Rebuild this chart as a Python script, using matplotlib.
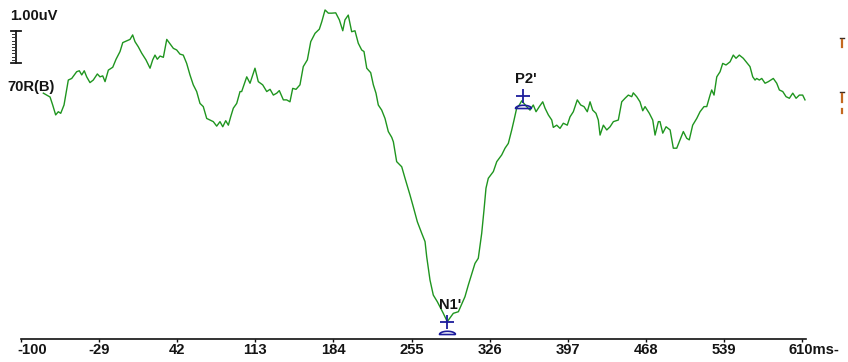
import numpy as np
import matplotlib
matplotlib.use("Agg")
import matplotlib.pyplot as plt
from matplotlib.path import Path
from matplotlib.lines import Line2D
import matplotlib.transforms as mtransforms

plt.rcParams['font.family'] = ['Liberation Sans', 'DejaVu Sans']

# Averaged ERP waveform, channel 70R(B): latency (ms) and amplitude (uV)
times = [
    -79.7, -73.6, -71.2, -68.5, -66.1, -63.9, -60.9, -58.5, -57.0, -53.9,
    -49.4, -47.0, -44.8, -42.5, -40.3, -37.3, -34.3, -30.6, -28.2, -25.7,
    -23.6, -20.6, -16.6, -13.6, -10.0, -7.5, -3.4, -0.9, 1.5, 3.6,
    6.6, 9.7, 13.6, 17.3, 19.7, 21.8, 23.9, 26.4, 29.4, 30.9,
    32.5, 35.5, 38.5, 41.5, 44.5, 47.5, 50.6, 53.6, 56.6, 59.7,
    62.7, 65.7, 68.8, 71.8, 74.8, 77.9, 80.9, 83.4, 86.1, 88.5,
    90.6, 93.0, 96.1, 99.1, 100.6, 105.2, 108.2, 112.7, 115.7, 119.7,
    123.4, 126.4, 129.4, 132.5, 134.8, 138.5, 141.5, 144.5, 147.0, 150.0,
    153.6, 156.6, 160.3, 163.4, 167.3, 171.2, 173.4, 176.4, 179.4, 182.5,
    186.1, 189.4, 192.5, 194.5, 197.5, 200.6, 203.6, 206.6, 209.7, 211.8,
    214.3, 217.9, 220.3, 222.7, 224.8, 227.9, 230.9, 233.9, 237.0, 238.5,
    241.5, 246.1, 249.1, 253.6, 256.6, 260.3, 264.3, 267.3, 268.8, 271.8,
    274.8, 278.5, 283.9, 287.5, 293.0, 297.6, 303.6, 306.6, 312.7, 315.7,
    318.8, 320.9, 322.7, 324.8, 329.4, 332.5, 337.0, 340.0, 343.0, 346.1,
    348.2, 350.6, 353.0, 355.2, 359.7, 362.7, 365.7, 368.2, 371.2, 374.3,
    376.4, 379.4, 382.5, 383.9, 387.0, 390.0, 393.0, 396.6, 399.1, 402.1,
    405.7, 408.8, 411.8, 414.8, 417.3, 419.7, 422.7, 424.8, 426.4, 429.4,
    432.5, 435.5, 438.5, 443.0, 446.1, 449.1, 452.1, 455.2, 456.6, 459.7,
    462.7, 465.2, 467.3, 471.2, 474.3, 476.4, 479.4, 480.9, 483.4, 486.4,
    490.1, 493.0, 496.1, 499.1, 502.1, 505.2, 507.5, 510.6, 514.3, 517.3,
    520.9, 523.4, 526.4, 527.9, 530.0, 532.5, 535.5, 537.9, 540.9, 544.6,
    547.5, 550.0, 553.0, 556.6, 560.3, 562.7, 565.2, 567.3, 568.8, 571.2,
    573.4, 576.4, 579.4, 583.9, 587.0, 589.4, 592.5, 595.5, 598.5, 601.6,
    604.6, 607.6, 610.6, 612.7,
]
amplitudes = [
    0.12, 0.00, -0.25, -0.56, -0.46, -0.51, -0.25, 0.22, 0.53, 0.58,
    0.79, 0.82, 0.69, 0.82, 0.63, 0.45, 0.53, 0.72, 0.63, 0.66,
    0.48, 0.84, 0.93, 1.18, 1.42, 1.70, 1.76, 1.80, 1.94, 1.73,
    1.57, 1.37, 1.16, 0.90, 1.16, 1.31, 1.18, 1.28, 1.24, 1.52,
    1.80, 1.66, 1.52, 1.47, 1.34, 1.31, 1.05, 0.69, 0.38, 0.17,
    -0.20, -0.30, -0.67, -0.72, -0.77, -0.91, -0.77, -0.93, -0.74, -0.88,
    -0.62, -0.35, -0.20, 0.17, 0.17, 0.63, 0.43, 0.90, 0.48, 0.38,
    0.17, 0.24, 0.06, 0.12, 0.20, -0.09, -0.09, -0.15, 0.27, 0.24,
    0.38, 0.95, 1.16, 1.73, 1.99, 2.12, 2.35, 2.72, 2.62, 2.62,
    2.63, 2.41, 2.07, 2.41, 2.56, 2.04, 2.07, 1.68, 1.47, 1.42,
    0.90, 0.76, 0.38, 0.12, -0.25, -0.41, -0.67, -1.08, -1.26, -1.40,
    -2.02, -2.18, -2.54, -3.06, -3.43, -3.90, -4.26, -4.52, -4.99, -5.72,
    -6.19, -6.40, -6.76, -7.02, -6.76, -6.71, -6.24, -5.88, -5.20, -5.04,
    -4.26, -3.53, -2.85, -2.54, -2.33, -2.02, -1.81, -1.60, -1.45, -1.03,
    -0.72, -0.35, -0.25, -0.12, -0.30, -0.41, -0.25, -0.46, -0.30, -0.15,
    -0.35, -0.56, -0.72, -0.95, -0.88, -0.98, -0.82, -0.88, -0.62, -0.46,
    -0.09, -0.25, -0.30, -0.46, -0.15, -0.41, -0.51, -0.72, -1.19, -0.88,
    -1.03, -0.93, -0.77, -0.72, -0.15, -0.04, 0.06, 0.01, 0.13, 0.01,
    -0.15, -0.43, -0.30, -0.51, -0.72, -1.19, -0.77, -0.77, -1.13, -0.93,
    -1.03, -1.60, -1.60, -1.34, -1.08, -1.29, -1.34, -0.88, -0.67, -0.46,
    -0.30, -0.30, 0.06, 0.22, 0.06, 0.63, 0.79, 1.05, 1.00, 1.10,
    1.31, 1.21, 1.31, 1.21, 1.05, 0.95, 0.63, 0.53, 0.58, 0.53,
    0.58, 0.43, 0.48, 0.58, 0.43, 0.22, 0.17, 0.01, -0.04, 0.12,
    -0.04, 0.06, 0.06, -0.09,
]

# Marked components
peak_names = ["N1'", "P2'"]
peak_times = [287.5, 356.0]
peak_amps = [-7.02, 0.03]

# Time axis ticks (ms)
tick_values = [-100, -29, 42, 113, 184, 255, 326, 397, 468, 539, 610]
tick_labels = ["-100", "-29", "42", "113", "184", "255", "326", "397", "468", "539", "610ms-"]

channel_label = "70R(B)"
scale_label = "1.00uV"
scale_uv = 1.0

W, H, DPI = 848, 362, 100
FS = 10.6
TEXT_COLOR = "#141414"

fig = plt.figure(figsize=(W / DPI, H / DPI), dpi=DPI)
fig.patch.set_facecolor("white")

ax_bottom_px = 339
ax = fig.add_axes([0, (H - ax_bottom_px) / H, 1, ax_bottom_px / H])
ax.set_facecolor("none")
ax.set_xlim(-119.1, 651.8)
ax.set_ylim(-7.5625, 3.03125)

for side in ("top", "left", "right"):
    ax.spines[side].set_visible(False)
ax.spines["bottom"].set_color("#111111")
ax.spines["bottom"].set_linewidth(1.2)
ax.spines["bottom"].set_bounds(-100, 613.6)
ax.set_yticks([])

ax.set_xticks(tick_values)
ax.set_xticklabels(tick_labels, fontsize=FS, fontweight="bold", color=TEXT_COLOR)
ax.tick_params(axis="x", direction="out", length=2.3, width=1.0,
               color="#111111", pad=0.8)
labels = ax.get_xticklabels()
labels[0].set_ha("left")
labels[0].set_transform(labels[0].get_transform()
                        + mtransforms.ScaledTranslation(-4 / DPI, 0, fig.dpi_scale_trans))
labels[-1].set_ha("left")
labels[-1].set_transform(labels[-1].get_transform()
                         + mtransforms.ScaledTranslation(-13.5 / DPI, 0, fig.dpi_scale_trans))

# Waveform
ax.plot(times, amplitudes, color="#1f951f", linewidth=1.0, solid_joinstyle="round",
        zorder=3)

# Peak markers: cross at the peak, dome below it, name above
marker_color = "#1d1d9c"
theta = np.linspace(0, np.pi, 25)
dome_verts = np.column_stack([np.cos(theta), 0.4 * np.sin(theta)])
dome_verts = np.vstack([dome_verts, [[1.0, 0.0]]])
dome = Path(dome_verts)
dome_trans = mtransforms.offset_copy(ax.transData, fig=fig, x=0, y=-12, units="dots")
for name, t, a in zip(peak_names, peak_times, peak_amps):
    ax.plot([t], [a], marker="+", markersize=10, markeredgewidth=1.3,
            color=marker_color, zorder=4)
    ax.plot([t], [a], marker=dome, markersize=11.5, markeredgewidth=1.2,
            markerfacecolor="none", markeredgecolor=marker_color,
            transform=dome_trans, zorder=4, clip_on=False)
    ax.annotate(name, xy=(t, a), xytext=(3, 17), textcoords="offset pixels",
                ha="center", va="center", fontsize=FS, fontweight="bold",
                color=TEXT_COLOR, zorder=5)

# Amplitude scale bar (1 uV) in the upper-left corner
bar_trans = mtransforms.blended_transform_factory(fig.transFigure, ax.transData)
bar_x = 15.5 / W
cap_l, cap_r = 11 / W, 21 / W
y0, y1 = 1.0625, 1.0625 + scale_uv
ax.plot([bar_x, bar_x], [y0, y1], color="#1a1a1a", lw=1.3, transform=bar_trans,
        clip_on=False)
ax.plot([cap_l, cap_r], [y0, y0], color="#1a1a1a", lw=1.3, transform=bar_trans,
        clip_on=False)
ax.plot([cap_l, cap_r], [y1, y1], color="#1a1a1a", lw=1.3, transform=bar_trans,
        clip_on=False)
for k in range(1, 10):
    yk = y0 + scale_uv * k / 10
    ax.plot([12 / W, bar_x], [yk, yk], color="#333333", lw=0.7,
            transform=bar_trans, clip_on=False)

fig.text(10 / W, 1 - 16.5 / H, scale_label, ha="left", va="center",
         fontsize=FS, fontweight="bold", color=TEXT_COLOR)
fig.text(7 / W, 1 - 87 / H, channel_label, ha="left", va="center",
         fontsize=FS, fontweight="bold", color=TEXT_COLOR)

# Small channel-edge indicators on the right margin
for top, bot, dash in [(38, 47, True), (92, 102, True), (107, 113, False)]:
    if dash:
        fig.add_artist(Line2D([840 / W, 843.5 / W], [1 - top / H, 1 - top / H],
                              color="#3a2a20", lw=1.0, transform=fig.transFigure))
    fig.add_artist(Line2D([841.8 / W, 841.8 / W],
                          [1 - (top + 2) / H, 1 - bot / H],
                          color="#c4691f", lw=1.6, transform=fig.transFigure))

fig.savefig("out.png", dpi=DPI, facecolor="white")
